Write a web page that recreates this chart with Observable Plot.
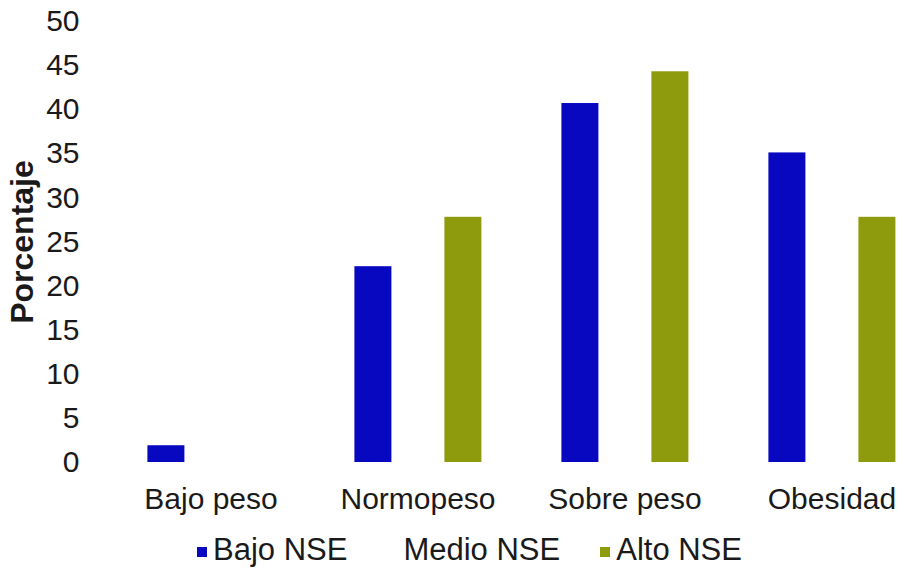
<!DOCTYPE html>
<html>
<head>
<meta charset="utf-8">
<script src="https://cdn.jsdelivr.net/npm/d3@7"></script>
<script src="https://cdn.jsdelivr.net/npm/@observablehq/plot@0.6"></script>
<style>
  body { margin: 0; background: #ffffff; font-family: "Liberation Sans", Arial, Helvetica, sans-serif; color: #1a1a1a; }
  #chart { width: 904px; height: 574px; overflow: hidden; }
  #chart svg { display: block; }
  #chart [aria-label="y-axis label"] { font-weight: bold; font-size: 32px; }
  .legend { display: flex; align-items: center; font-size: 31px; line-height: 34px; padding-left: 197px; margin-top: 13px; }
  .legend .item { display: flex; align-items: center; margin-right: 40px; }
  .legend .swatch { width: 10px; height: 10px; margin-right: 6px; margin-top: 4px; }
</style>
</head>
<body>
<div id="chart"></div>
<script>
// Estado nutricional según nivel socioeconómico (NSE), en porcentaje
const categories = ["Bajo peso", "Normopeso", "Sobre peso", "Obesidad"];
const series = ["Bajo NSE", "Medio NSE", "Alto NSE"];
const bajoNSE = [1.9, 22.2, 40.7, 35.1];
const altoNSE = [null, 27.8, 44.3, 27.8];
const seriesColors = ["#0808c0", "#ffffff", "#8e9b0c"];
const yTicks = [0, 5, 10, 15, 20, 25, 30, 35, 40, 45, 50];

// Tabla larga: una fila por categoría y serie con valor
const rows = [];
categories.forEach((c, i) => {
  if (bajoNSE[i] != null) rows.push({categoria: c, serie: "Bajo NSE", valor: bajoNSE[i]});
  if (altoNSE[i] != null) rows.push({categoria: c, serie: "Alto NSE", valor: altoNSE[i]});
});

const chart = Plot.plot({
  width: 904,
  height: 520,
  marginTop: 21,
  marginBottom: 58,
  marginLeft: 105.6,
  marginRight: -32.4,
  style: {
    fontSize: "30px",
    fontFamily: "'Liberation Sans', Arial, Helvetica, sans-serif",
    color: "#1a1a1a",
    background: "transparent",
    overflow: "visible"
  },
  fx: {domain: categories, padding: 0, label: null, axis: "bottom", tickSize: 0, tickPadding: 25.5},
  x: {domain: series, paddingInner: 0.18, paddingOuter: 0.872, axis: null},
  y: {
    domain: [0, 50],
    ticks: yTicks,
    tickSize: 0,
    tickPadding: 28,
    label: "Porcentaje",
    labelAnchor: "center",
    labelArrow: "none",
    labelOffset: 97
  },
  color: {domain: series, range: seriesColors},
  marks: [
    Plot.barY(rows, {fx: "categoria", x: "serie", y: "valor", fill: "serie"})
  ]
});

const root = document.getElementById("chart");
root.appendChild(chart);

// Leyenda de las tres series bajo el gráfico
const legend = document.createElement("div");
legend.className = "legend";
series.forEach((s, i) => {
  const item = document.createElement("div");
  item.className = "item";
  const sw = document.createElement("span");
  sw.className = "swatch";
  sw.style.background = seriesColors[i];
  const label = document.createElement("span");
  label.textContent = s;
  item.append(sw, label);
  legend.appendChild(item);
});
root.appendChild(legend);
</script>
</body>
</html>
